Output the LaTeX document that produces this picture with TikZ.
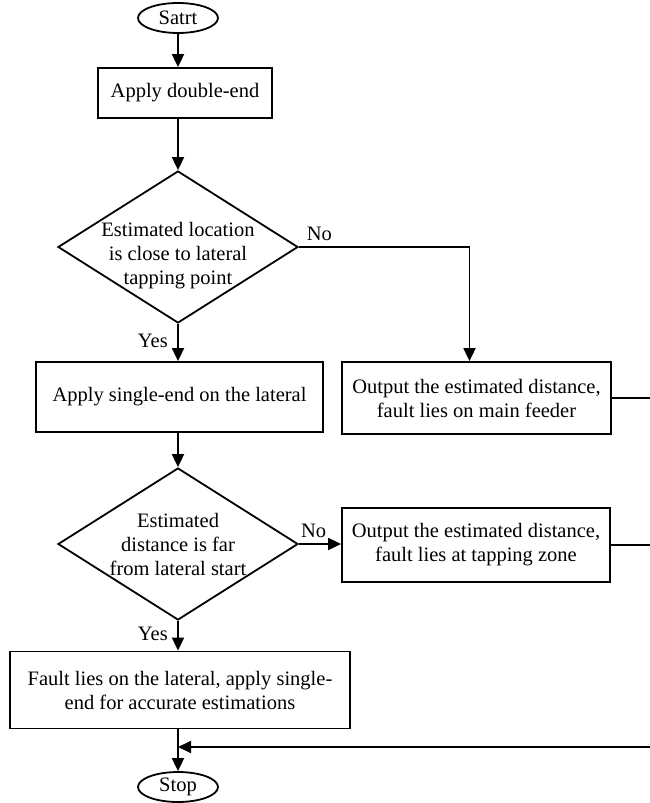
\documentclass[tikz,border=0pt]{standalone}
\usepackage{fontspec}
\setmainfont{Liberation Serif}
\usetikzlibrary{shapes.geometric,arrows.meta}

\tikzset{
  every node/.style={font=\fontsize{20.5}{24}\selectfont},
  terminal/.style={draw,ellipse,line width=1.8pt,minimum width=80,minimum height=30,inner sep=0pt},
  procbox/.style={draw,rectangle,line width=1.8pt,align=center,inner sep=2pt},
  decision/.style={draw,diamond,line width=1.8pt,align=center,aspect=1.58,inner sep=-4pt,minimum width=240,minimum height=152},
  flow/.style={line width=1.8pt,-{Triangle[length=13pt,width=12pt]}},
  plain/.style={line width=1.8pt}
}

\begin{document}
\begin{tikzpicture}[x=1pt,y=-1pt]
  \useasboundingbox (0,0) rectangle (649,803);

  %start and stop
  \node[terminal] (start) at (178,18) {Satrt};
  \node[terminal] (stop) at (178,787) {Stop};

  %main column
  \node[procbox,minimum width=174,minimum height=50] (double) at (185,93) {Apply double-end};
  \node[decision] (dec1) at (178,247) {};
  \node[align=center] (dec1txt) at (178,256) {Estimated location\\is close to lateral\\tapping point};
  \node[procbox,minimum width=287,minimum height=70] (single) at (179.5,397) {Apply single-end on the lateral};
  \node[decision] (dec2) at (178,544) {Estimated\\distance is far\\from lateral start};
  \node[procbox,minimum width=340,minimum height=77] (fault) at (180,690)
      {Fault lies on the lateral, apply single-\\end for accurate estimations};

  %right column
  \node[procbox,minimum width=269,minimum height=72] (mainf) at (476.5,398)
      {Output the estimated distance,\\fault lies on main feeder};
  \node[procbox,minimum width=268,minimum height=74] (tapz) at (476,545)
      {Output the estimated distance,\\fault lies at tapping zone};

  %return rail (just outside the page)
  \coordinate (rail) at (662,0);
  \coordinate (merge) at (178,747);

  \draw[flow] (start.south) -- (start.south |- double.north);
  \draw[flow] (dec1.north |- double.south) -- (dec1.north);
  \draw[flow] (dec1.south) -- (dec1.south |- single.north) node[pos=0.45,left=6pt] {Yes};
  \draw[flow] (dec1.east) -| ([xshift=-7pt]mainf.north) node[pos=0.06,above=2pt] {No};
  \draw[flow] (dec2.north |- single.south) -- (dec2.north);
  \draw[flow] (dec2.east) -- (dec2.east -| tapz.west) node[pos=0.35,above=2pt] {No};
  \draw[flow] (dec2.south) -- (dec2.south |- fault.north) node[pos=0.45,left=6pt] {Yes};
  \draw[flow] (fault.south -| stop) -- (stop.north);

  \draw[plain] (tapz.east) -- (tapz.east -| rail);
  \draw[flow] (mainf.east) -| (rail |- merge) -- (merge);
\end{tikzpicture}
\end{document}
